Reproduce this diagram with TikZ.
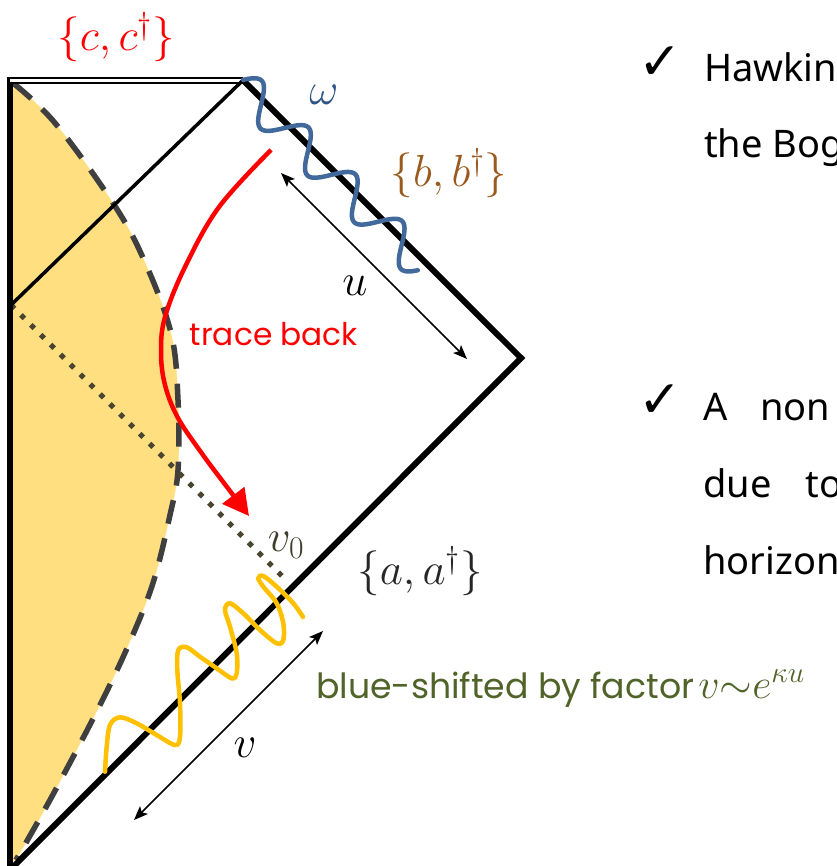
\RequirePackage{fix-cm}
\documentclass[tikz,border=0pt]{standalone}
\usepackage{fontspec}
\usetikzlibrary{arrows.meta}
\newfontfamily\bodyfont{Noto Sans}
\newfontfamily\handfont{Poppins}
\newfontfamily\symfont{DejaVu Sans}
\definecolor{fillyel}{HTML}{FFDF80}
\definecolor{dashgray}{HTML}{3F3F3F}
\definecolor{dotolive}{HTML}{4A4530}
\definecolor{wavblue}{HTML}{41699B}
\definecolor{omblue}{HTML}{2F5587}
\definecolor{bbrown}{HTML}{9A5A1E}
\definecolor{waveyel}{HTML}{FFC000}
\definecolor{olivegreen}{HTML}{506328}
\definecolor{vzero}{HTML}{3F3D2B}
\definecolor{adark}{HTML}{262626}
\tikzset{
  thickedge/.style={line width=6pt, black},
  inneredge/.style={line width=3.5pt, black},
  thinarrow/.style={line width=1.5pt, black, {Stealth[length=14pt,width=11pt,inset=3pt]}-{Stealth[length=14pt,width=11pt,inset=3pt]}},
  mathlbl/.style={font=\fontsize{45}{50}\selectfont, inner sep=0pt},
  handlbl/.style={font=\handfont, inner sep=0pt},
  bodytxt/.style={font=\bodyfont\fontsize{38}{44}\selectfont, anchor=base west, inner sep=0pt},
  checkmk/.style={font=\symfont\fontsize{52}{56}\selectfont, inner sep=0pt},
}
\begin{document}
\begin{tikzpicture}[x=1pt,y=-1pt]
\useasboundingbox (0,0) rectangle (836,866);
\fill[white] (0,0) rectangle (836,866);
\clip (0,0) rectangle (836,866);

% yellow region
\fill[fillyel] (10,82) -- plot[smooth, tension=0.6] coordinates {(13,83) (55,123) (113,203) (144,260) (171,333) (178,400) (178,470) (170,515) (153,583) (128,646) (99,707) (64,774) (40,818) (16,860)} -- (10,862) -- cycle;
% dashed boundary
\draw[dashgray, line width=5.5pt, dash pattern=on 24pt off 15pt] plot[smooth, tension=0.6] coordinates {(13,83) (55,123) (113,203) (144,260) (171,333) (178,400) (178,470) (170,515) (153,583) (128,646) (99,707) (64,774) (40,818) (16,860)};

% corners
\coordinate (TL) at (10,80.2);
\coordinate (TR) at (243,80.2);
\coordinate (RC) at (521,358);
\coordinate (BL) at (10,870);
\coordinate (ML) at (11,305);
\coordinate (DE) at (288,582);

% dotted line
\draw[dotolive, line width=5pt, dash pattern=on 5pt off 9pt] (ML) -- (DE);

% outline
\draw[thickedge] (10,77) -- (BL);
\draw[line width=1.9pt, double=white, double distance=3.1pt] (TL) -- (TR);
\draw[thickedge, line join=miter] (TR) -- (RC) -- (BL);
\draw[inneredge] (TR) -- (ML);

% length arrows
\coordinate (ua) at (281,173);
\coordinate (ub) at (467,359);
\draw[thinarrow] (ua) -- (ub);
\coordinate (va) at (134,820);
\coordinate (vb) at (323,631);
\draw[thinarrow] (va) -- (vb);

% blue wave
\draw[wavblue, line width=4.5pt, line cap=round] plot[domain=323:688, samples=220, variable=\t]
  ({(\t + 156.5 + 24.5*sin(3.842*(\t-318.8)))/2}, {(\t - 156.5 - 24.5*sin(3.842*(\t-318.8)))/2});

% yellow wave
\draw[waveyel, line width=4.5pt, line cap=round] plot[smooth, tension=0.55] coordinates {
(105,771.7) (106.7,746.7) (110,725) (120,717.3) (136.7,723.3) (156.7,735) (175,745) (180,736.7)
(180,703.3) (177.3,670) (178.3,650) (186.7,647.3) (200,656.7) (216.7,668.3) (231.7,678.3) (236.7,673.3)
(236.7,653.3) (230,626.7) (225,610) (230,603.3) (243.3,613.3) (260,630) (276.7,643.3) (283.3,640)
(283.3,623.3) (276.7,603.3) (263.3,586.7) (258.3,578.3) (263.3,576) (276.7,586.7) (293.3,603.3) (303,617)};

% red trace-back curve
\draw[red, line width=4.5pt, -{Triangle[length=26pt,width=27pt]}] plot[smooth, tension=0.6] coordinates {
(271,150) (219,207) (185,267) (165,317) (161,352) (165,385) (178,418) (203,455) (227,487) (249,516)};

% labels
\node[mathlbl, text=red] (cc) at (116,37) {$\{c,c^{\dagger}\}$};
\node[mathlbl, text=omblue] (om) at (324,95) {$\omega$};
\node[mathlbl, text=bbrown] (bb) at (449,173) {$\{b,b^{\dagger}\}$};
\node[mathlbl, text=black] (ul) at (355,286) {$u$};
\node[handlbl, text=red] (tb) at (274,334) {\resizebox{168pt}{!}{trace back}};
\node[mathlbl, text=vzero] (v0) at (286,545) {$v_0$};
\node[mathlbl, text=adark] (aa) at (420,571) {$\{a,a^{\dagger}\}$};
\node[mathlbl, text=black] (vl) at (245,748) {$v$};
\node[handlbl, text=olivegreen, anchor=base west] (bs) at (316,698) {\resizebox{378pt}{!}{blue-shifted by factor}\hspace{4pt}{\fontsize{42}{50}\selectfont$v{\sim}e^{\kappa u}$}};

% right text
\node[checkmk] (c1) at (660,63) {✓};
\node[bodytxt] (t1) at (704,82) {Hawking};
\node[bodytxt] (t2) at (704,158) {the Bogoliubov};
\node[checkmk] (c2) at (660,401) {✓};
\node[bodytxt] (t3) at (703,420) {A\hspace{33pt}non};
\node[bodytxt] (t4) at (703,497) {due\hspace{34pt}to};
\node[bodytxt] (t5) at (703,574) {horizon};
\end{tikzpicture}
\end{document}
